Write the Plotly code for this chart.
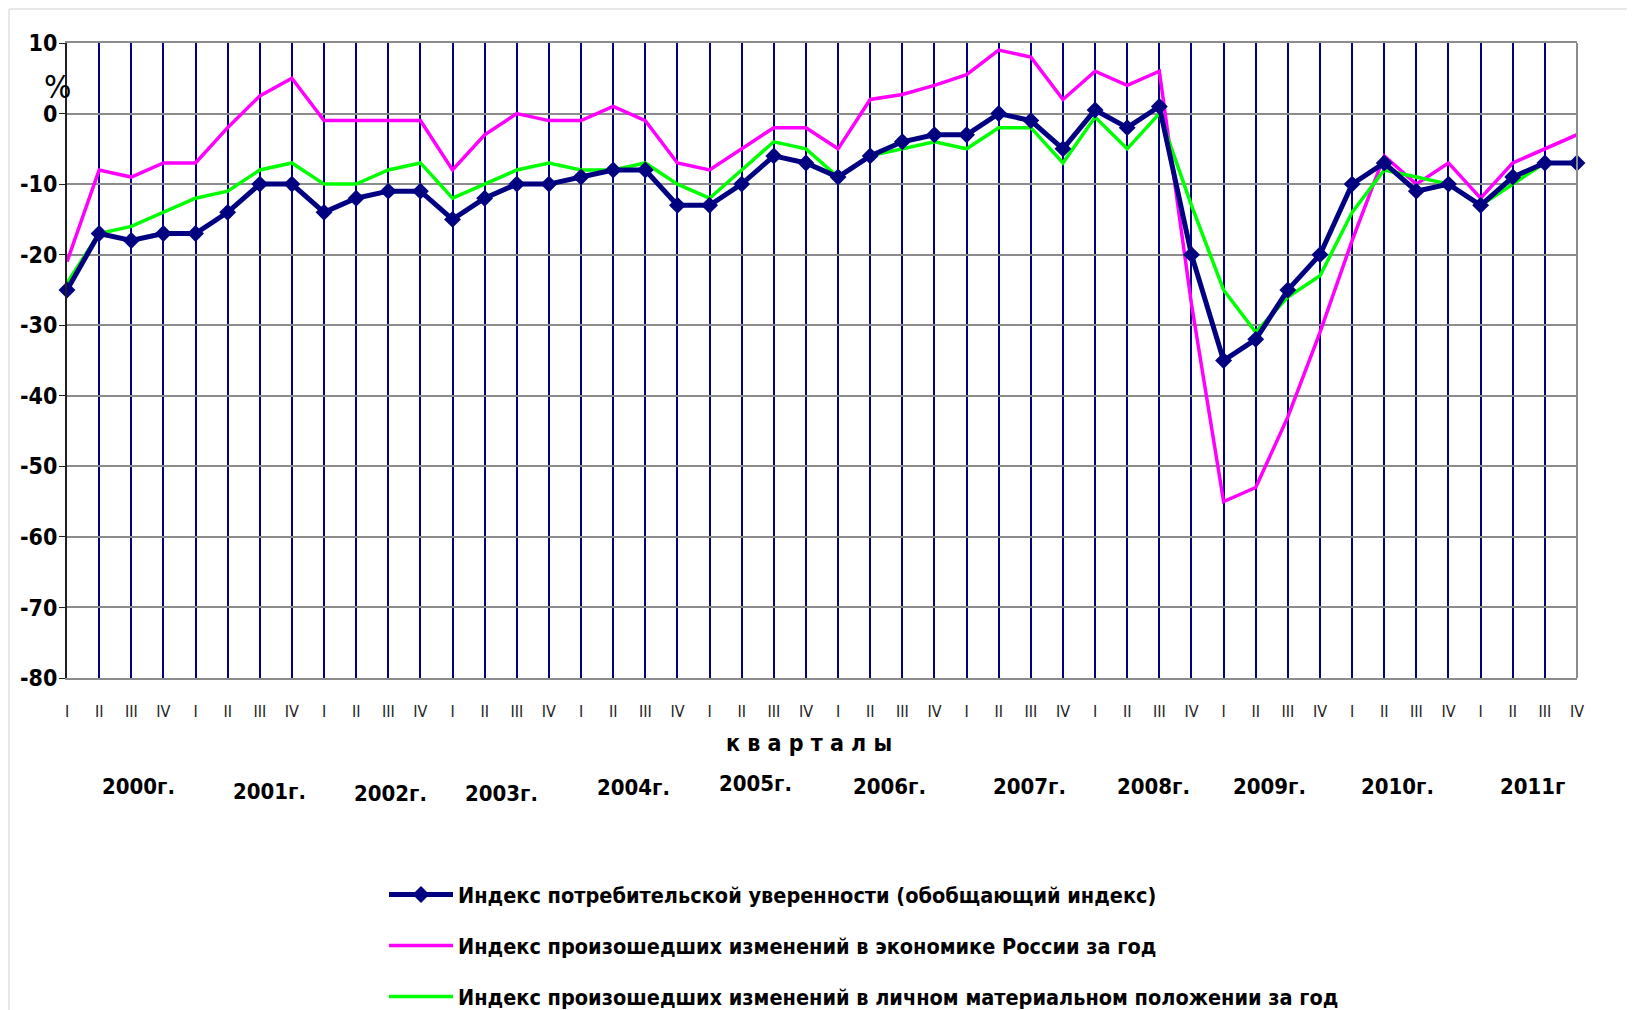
import plotly.graph_objects as go

# quarters 2000 I .. 2011 IV
quarters = ["I", "II", "III", "IV"] * 12
years = ["2000г.", "2001г.", "2002г.", "2003г.", "2004г.", "2005г.",
         "2006г.", "2007г.", "2008г.", "2009г.", "2010г.", "2011г"]
y_ticks = [10, 0, -10, -20, -30, -40, -50, -60, -70, -80]
y_labels = ["10", "0", "-10", "-20", "-30", "-40", "-50", "-60", "-70", "-80"]

confidence = [-25, -17, -18, -17, -17, -14, -10, -10,
              -14, -12, -11, -11, -15, -12, -10, -10,
              -9, -8, -8, -13, -13, -10, -6, -7,
              -9, -6, -4, -3, -3, 0, -1, -5,
              0.5, -2, 1, -20, -35, -32, -25, -20,
              -10, -7, -11, -10, -13, -9, -7, -7]
economy = [-21, -8, -9, -7, -7, -2, 2.5, 5,
           -1, -1, -1, -1, -8, -3, 0, -1,
           -1, 1, -1, -7, -8, -5, -2, -2,
           -5, 2, 2.7, 4, 5.5, 9, 8, 2,
           6, 4, 6, -27, -55, -53, -43, -31,
           -18, -6, -10, -7, -12, -7, -5, -3]
personal = [-24, -17, -16, -14, -12, -11, -8, -7,
            -10, -10, -8, -7, -12, -10, -8, -7,
            -8, -8, -7, -10, -12, -8, -4, -5,
            -9, -6, -5, -4, -5, -2, -2, -7,
            -0.5, -5, 0, -13, -25, -31, -26, -23,
            -14, -8, -9, -10, -13, -10, -7, -7]

names = ["Индекс потребительской уверенности (обобщающий индекс)",
         "Индекс произошедших изменений в экономике России за год",
         "Индекс произошедших изменений в личном материальном положении за год"]

FONT = "Liberation Sans Narrow, Arial Narrow, DejaVu Sans Condensed, sans-serif"
x = list(range(len(quarters)))

fig = go.Figure()
fig.add_trace(go.Scatter(x=x, y=economy, name=names[1], mode="lines",
                         line=dict(color="#ff00ff", width=3.5),
                         legendgroup="b", legendrank=2, cliponaxis=False))
fig.add_trace(go.Scatter(x=x, y=personal, name=names[2], mode="lines",
                         line=dict(color="#00ff00", width=3.5),
                         legendgroup="c", legendrank=3, cliponaxis=False))
fig.add_trace(go.Scatter(x=x, y=confidence, name=names[0], mode="lines+markers",
                         line=dict(color="#000080", width=5),
                         marker=dict(symbol="diamond", size=13, color="#000080"),
                         legendgroup="a", legendrank=1, cliponaxis=False))

# the page puts the figure 8px in from the window corner
OFF = 8
W, H = 1635 - OFF, 1010 - OFF
# plot area in window pixels, used to place the free text
pl, pr, pt, pb = 67, 1577, 43, 678


def px(xpix):
    return (xpix - pl) / (pr - pl)


def py(ypix):
    return (pb - ypix) / (pb - pt)


bold = dict(family=FONT, color="black", weight="bold")

# year labels under the quarter ticks
year_x = [2.24, 6.3, 10.06, 13.53, 17.62, 21.42, 25.61, 29.96, 33.82, 37.42, 41.42, 45.6]
year_y = [786, 791, 793, 793, 787, 783, 786, 786, 786, 786, 786, 786]
for lab, xx, yy in zip(years, year_x, year_y):
    fig.add_annotation(x=xx, xref="x", y=py(yy), yref="paper",
                       text=lab, showarrow=False, font=dict(size=22, **bold),
                       xanchor="center", yanchor="middle")

fig.add_annotation(x=23.08, xref="x", y=py(743), yref="paper",
                   text=" ".join("кварталы"), showarrow=False,
                   font=dict(size=23, **bold), xanchor="center", yanchor="middle")
fig.add_annotation(x=px(57), xref="paper", y=py(87), yref="paper",
                   text="%", showarrow=False, font=dict(size=32, family=FONT, color="black"),
                   xanchor="center", yanchor="middle")

# right border of the plot
fig.add_shape(type="line", xref="paper", yref="paper", x0=1, x1=1, y0=0, y1=1,
              line=dict(color="#8c8c8c", width=2))
# thin outer frame (top and left)
fig.add_shape(type="line", xref="paper", yref="paper", x0=px(9), x1=px(1640), y0=py(9), y1=py(9),
              line=dict(color="#d0d0d0", width=1))
fig.add_shape(type="line", xref="paper", yref="paper", x0=px(9), x1=px(9), y0=py(9), y1=py(1015),
              line=dict(color="#d0d0d0", width=1))

fig.update_layout(
    width=W, height=H,
    margin=dict(l=pl - OFF, r=1635 - pr, t=pt - OFF, b=1010 - pb, autoexpand=False),
    paper_bgcolor="white", plot_bgcolor="white",
    font=dict(family=FONT, color="black"),
    showlegend=True,
    legend=dict(xref="container", yref="container", x=(384 - OFF) / W, y=1 - (874 - OFF) / H,
                xanchor="left", yanchor="top", orientation="v", itemwidth=64,
                font=dict(size=21.5, **bold),
                tracegroupgap=20, bgcolor="rgba(0,0,0,0)"),
    xaxis=dict(range=[0, len(quarters) - 1], tickmode="array", tickvals=x, ticktext=quarters,
               showgrid=True, gridcolor="#000080", gridwidth=2, zeroline=False,
               showline=True, mirror=True, linecolor="#8c8c8c", linewidth=2,
               ticks="", ticklabelstandoff=18, tickangle=0,
               tickfont=dict(size=16, family=FONT, color="#222")),
    yaxis=dict(range=[-80, 10], tickmode="array", tickvals=y_ticks, ticktext=y_labels,
               showgrid=True, gridcolor="#8c8c8c", gridwidth=2,
               zeroline=False, showline=True, linecolor="#202020", linewidth=2,
               ticks="outside", ticklen=6, tickcolor="#202020", ticklabelstandoff=-3,
               tickfont=dict(size=23, **bold)),
)

fig.write_html("out.html")
